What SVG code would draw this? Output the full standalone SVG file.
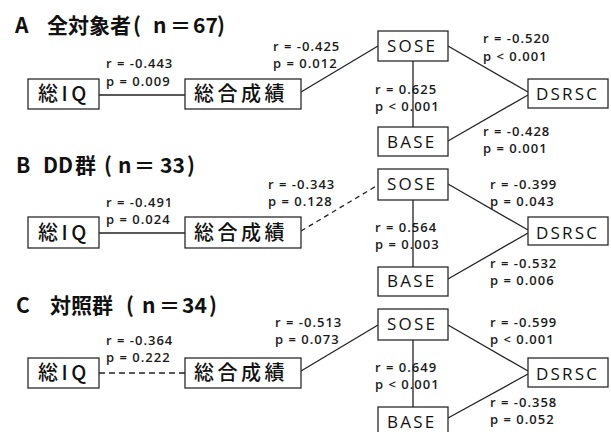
<svg xmlns="http://www.w3.org/2000/svg" width="611" height="432" viewBox="0 0 611 432">
<style>
.bx{fill:#fff;stroke:#2a2a2a;stroke-width:1.3}
.ln{fill:none;stroke:#222;stroke-width:1.3}
.dash1{stroke-dasharray:5 4}
.dash2{stroke-dasharray:6 4}
.lab{font-family:"Open Sans","DejaVu Sans",sans-serif;font-size:13px;font-weight:600;letter-spacing:1px;fill:#1a1a1a}
.nl{font-family:"Open Sans","DejaVu Sans",sans-serif;font-size:17px;letter-spacing:2.2px;fill:#111}
.nj{font-family:"Noto Sans CJK JP","Open Sans",sans-serif;font-size:20px;font-weight:500;letter-spacing:3.5px;fill:#111}
.ttl{font-family:"Noto Sans CJK JP","DejaVu Sans",sans-serif;font-size:21px;font-weight:bold;fill:#111}
</style>
<rect width="611" height="432" fill="#fff"/>

<g id="titles">
<text class="ttl" y="33"><tspan x="15">A</tspan><tspan x="47">全対象者</tspan><tspan x="133">(</tspan><tspan x="153">n</tspan><tspan x="170">＝</tspan><tspan x="193">67</tspan><tspan x="217">)</tspan></text>
<text class="ttl" y="173"><tspan x="16">B</tspan><tspan x="43">DD</tspan><tspan x="75">群</tspan><tspan x="104">(</tspan><tspan x="118">n</tspan><tspan x="134">＝</tspan><tspan x="160">33</tspan><tspan x="187">)</tspan></text>
<text class="ttl" y="313"><tspan x="16">C</tspan><tspan x="50">対照群</tspan><tspan x="126">(</tspan><tspan x="142">n</tspan><tspan x="159">＝</tspan><tspan x="182">34</tspan><tspan x="209">)</tspan></text>
</g>

<g id="connectors">
<!-- A -->
<line class="ln" x1="99" y1="95" x2="185" y2="95"/>
<line class="ln" x1="301" y1="92" x2="378" y2="46"/>
<line class="ln" x1="413" y1="61" x2="413" y2="127"/>
<line class="ln" x1="448" y1="46" x2="528" y2="92"/>
<line class="ln" x1="448" y1="141" x2="528" y2="95"/>
<!-- B -->
<line class="ln" x1="99" y1="233" x2="185" y2="233"/>
<line class="ln dash1" x1="301" y1="231" x2="378" y2="185"/>
<line class="ln" x1="413" y1="200" x2="413" y2="267"/>
<line class="ln" x1="448" y1="184" x2="528" y2="230"/>
<line class="ln" x1="448" y1="279" x2="528" y2="233"/>
<!-- C -->
<line class="ln dash2" x1="99" y1="373" x2="185" y2="373"/>
<line class="ln" x1="301" y1="371" x2="378" y2="325"/>
<line class="ln" x1="413" y1="340" x2="413" y2="407"/>
<line class="ln" x1="448" y1="325" x2="528" y2="371"/>
<line class="ln" x1="448" y1="418" x2="528" y2="374"/>
</g>

<g id="A-IQ"><rect class="bx" x="28" y="79" width="71" height="30"/><text class="nj" x="38" y="101">総IQ</text></g>
<g id="A-seiseki"><rect class="bx" x="185" y="79" width="116" height="30"/><text class="nj" x="194" y="101">総合成績</text></g>
<g id="A-SOSE"><rect class="bx" x="378" y="31" width="70" height="30"/><text class="nl" x="387" y="52">SOSE</text></g>
<g id="A-BASE"><rect class="bx" x="378" y="127" width="70" height="29"/><text class="nl" x="387" y="148">BASE</text></g>
<g id="A-DSRSC"><rect class="bx" x="528" y="79" width="80" height="29"/><text class="nl" x="536" y="100">DSRSC</text></g>

<g id="B-IQ"><rect class="bx" x="28" y="217" width="71" height="31"/><text class="nj" x="38" y="240">総IQ</text></g>
<g id="B-seiseki"><rect class="bx" x="185" y="217" width="116" height="31"/><text class="nj" x="194" y="240">総合成績</text></g>
<g id="B-SOSE"><rect class="bx" x="378" y="169" width="70" height="31"/><text class="nl" x="387" y="190">SOSE</text></g>
<g id="B-BASE"><rect class="bx" x="378" y="267" width="70" height="29"/><text class="nl" x="387" y="287">BASE</text></g>
<g id="B-DSRSC"><rect class="bx" x="528" y="217" width="80" height="28"/><text class="nl" x="536" y="239">DSRSC</text></g>

<g id="C-IQ"><rect class="bx" x="28" y="358" width="71" height="30"/><text class="nj" x="38" y="380">総IQ</text></g>
<g id="C-seiseki"><rect class="bx" x="185" y="358" width="116" height="30"/><text class="nj" x="194" y="380">総合成績</text></g>
<g id="C-SOSE"><rect class="bx" x="378" y="309" width="70" height="31"/><text class="nl" x="387" y="330">SOSE</text></g>
<g id="C-BASE"><rect class="bx" x="378" y="407" width="70" height="32"/><text class="nl" x="387" y="428">BASE</text></g>
<g id="C-DSRSC"><rect class="bx" x="528" y="358" width="80" height="29"/><text class="nl" x="536" y="380">DSRSC</text></g>

<g id="labels">
<text class="lab" x="106" y="68">r = -0.443</text><text class="lab" x="106" y="86">p = 0.009</text>
<text class="lab" x="273" y="51">r = -0.425</text><text class="lab" x="273" y="68">p = 0.012</text>
<text class="lab" x="483" y="43">r = -0.520</text><text class="lab" x="483" y="61">p &lt; 0.001</text>
<text class="lab" x="375" y="94">r = 0.625</text><text class="lab" x="375" y="111">p &lt; 0.001</text>
<text class="lab" x="483" y="136">r = -0.428</text><text class="lab" x="483" y="153">p = 0.001</text>

<text class="lab" x="106" y="207">r = -0.491</text><text class="lab" x="106" y="224">p = 0.024</text>
<text class="lab" x="268" y="189">r = -0.343</text><text class="lab" x="268" y="206">p = 0.128</text>
<text class="lab" x="490" y="189">r = -0.399</text><text class="lab" x="490" y="206">p = 0.043</text>
<text class="lab" x="375" y="232">r = 0.564</text><text class="lab" x="375" y="249">p = 0.003</text>
<text class="lab" x="490" y="268">r = -0.532</text><text class="lab" x="490" y="285">p = 0.006</text>

<text class="lab" x="106" y="345">r = -0.364</text><text class="lab" x="106" y="362">p = 0.222</text>
<text class="lab" x="275" y="327">r = -0.513</text><text class="lab" x="275" y="344">p = 0.073</text>
<text class="lab" x="490" y="327">r = -0.599</text><text class="lab" x="490" y="344">p &lt; 0.001</text>
<text class="lab" x="375" y="372">r = 0.649</text><text class="lab" x="375" y="389">p &lt; 0.001</text>
<text class="lab" x="490" y="407">r = -0.358</text><text class="lab" x="490" y="424">p = 0.052</text>
</g>
</svg>
